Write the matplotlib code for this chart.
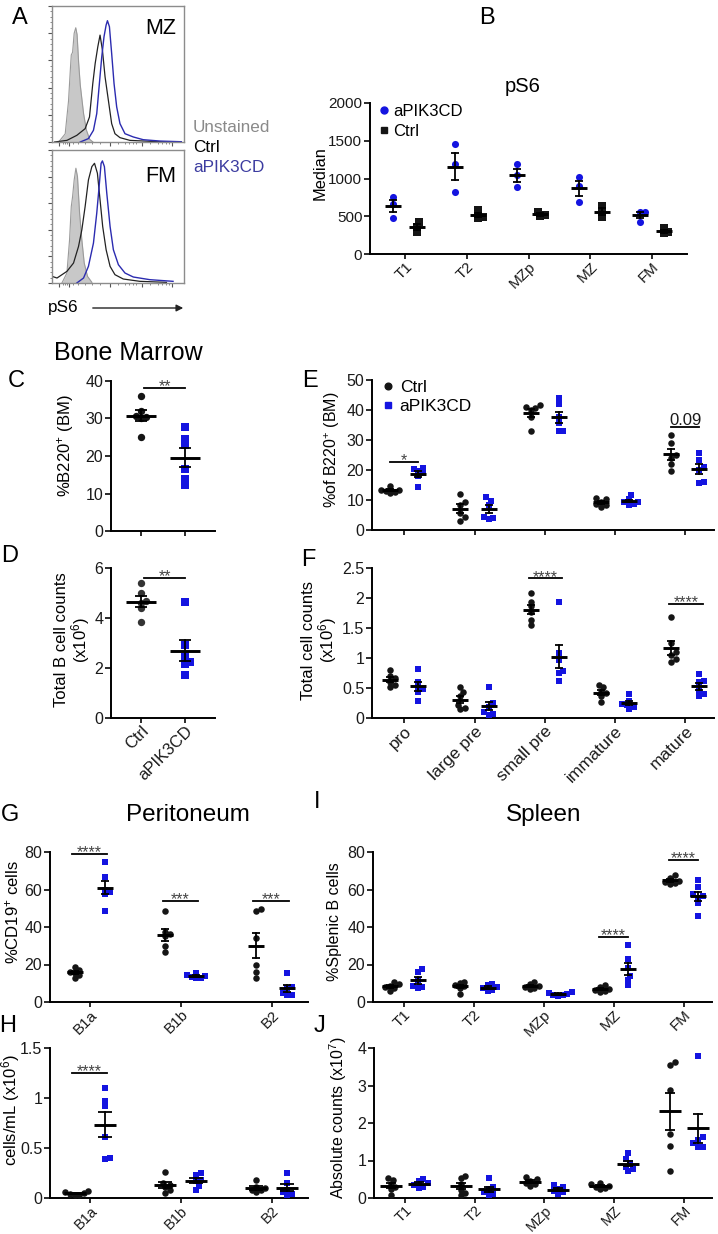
import numpy as np
import matplotlib
matplotlib.use("Agg")
import matplotlib.pyplot as plt
from matplotlib.lines import Line2D

plt.rcParams['font.family'] = ['Liberation Sans', 'DejaVu Sans']
plt.rcParams['mathtext.fontset'] = 'custom'
plt.rcParams['mathtext.rm'] = 'Liberation Sans'
plt.rcParams['mathtext.it'] = 'Liberation Sans:italic'

W, H = 718, 1234
BLUE = '#1414e0'
BLACK = '#151515'

# ---------------- data ----------------
# A: pS6 flow histograms (x, y in % of box)
mz_unst_x = [5, 10, 12.5, 14, 14.6, 15.6, 16.8, 18, 19, 20.2, 21.4, 23.9, 26, 28.5, 31]
mz_unst_y = [0, 6, 30, 55, 64, 66, 80, 84, 79, 58, 42, 21, 9, 2, 0]
mz_ctrl_x = [2, 11.3, 18.8, 25.1, 28.4, 30.9, 32.7, 34.7, 36.4, 38.2, 40.2, 42.7, 45.2, 47.7, 51.5, 59.0, 74.1, 91.7]
mz_ctrl_y = [0, 1.2, 4.9, 9.8, 18.4, 43, 57.7, 70, 78.6, 67.6, 47.9, 30.7, 13.5, 6.1, 3.2, 1.2, 0.5, 0]
mz_apik_x = [21.4, 27.6, 31.4, 33.9, 35.9, 37.7, 39.4, 41, 42, 43.5, 45.2, 47, 49, 51.5, 55.3, 61.6, 69.1, 81.7, 98]
mz_apik_y = [0, 2.5, 8.6, 20.9, 43, 62.7, 77.4, 86, 89.2, 84.8, 65.1, 43, 25.8, 13.5, 6.1, 3.7, 1.7, 0.7, 0.2]
fm_unst_x = [7.5, 11.3, 13.3, 14.6, 15.6, 16.8, 18.1, 19.3, 20.9, 22.6, 24.4, 26.9, 30.2]
fm_unst_y = [0, 7.5, 32.5, 57.5, 65, 77.5, 86.3, 80, 52.5, 32.5, 15, 5, 0.5]
fm_ctrl_x = [0, 3.8, 11.3, 16.3, 20.1, 22.6, 25.1, 27.6, 30.2, 32.2, 34.4, 36.4, 38.4, 41, 44, 47.7, 54, 66.6, 86.7]
fm_ctrl_y = [5, 3.75, 8.75, 15, 27.5, 40, 57.5, 77.5, 87.5, 90, 82.5, 62.5, 42.5, 25, 12.5, 6.25, 3, 1.25, 0.5]
fm_apik_x = [18.8, 23.9, 27.6, 31.4, 33.9, 35.7, 37.2, 38.2, 39.7, 41.5, 44, 46.5, 50.3, 55.3, 61.6, 74.1, 91.7]
fm_apik_y = [0, 3.75, 12.5, 30, 52.5, 72.5, 90, 91.8, 87.5, 67.5, 42.5, 25, 13.75, 7.5, 4.5, 2.5, 1.25]

# B: pS6 median
b_cats = ['T1', 'T2', 'MZp', 'MZ', 'FM']
b_apik = [[761, 664, 478], [1456, 1190, 827], [1190, 1049, 885], [1018, 907, 686], [560, 560, 430]]
b_ctrl = [[420, 360, 290], [580, 490, 480], [560, 520, 500], [640, 550, 485], [340, 296, 274]]

# C, D: bone marrow B cells
cd_cats = ['Ctrl', 'aPIK3CD']
c_ctrl = [36.1, 32.0, 30.6, 30.4, 30.0, 25.0]
c_apik = [27.6, 24.4, 22.8, 16.5, 13.8, 12.3]
d_ctrl = [5.4, 5.0, 4.7, 4.6, 4.4, 3.85]
d_apik = [4.65, 2.92, 2.45, 2.25, 2.15, 1.72]

# E, F: bone marrow subsets
ef_cats = ['pro', 'large pre', 'small pre', 'immature', 'mature']
e_ctrl = [[14.5, 13.5, 13.2, 13.0, 12.8, 12.5], [12, 9.4, 8.3, 5.6, 4.4, 3.1],
          [41.5, 41, 40.5, 40, 37.5, 33], [10.8, 10.5, 9.5, 8.8, 8.2, 7.8],
          [31.7, 29, 25, 24, 22, 19.8]]
e_apik = [[20.8, 20.2, 19.6, 19, 18, 14.3], [11.1, 9.8, 8.3, 4.4, 3.9, 3.6],
          [43.9, 41.9, 37.8, 35.7, 33.1, 33.0], [11.7, 10.2, 9.5, 9.2, 8.8, 8.5],
          [25.6, 23.3, 21, 20, 16, 15.8]]
f_ctrl = [[0.8, 0.7, 0.66, 0.6, 0.55, 0.52], [0.51, 0.43, 0.36, 0.22, 0.16, 0.15],
          [2.09, 1.94, 1.86, 1.77, 1.63, 1.55], [0.55, 0.51, 0.44, 0.41, 0.36, 0.26],
          [1.69, 1.25, 1.1, 1.05, 0.98, 0.93]]
f_apik = [[0.82, 0.6, 0.52, 0.49, 0.44, 0.29], [0.51, 0.245, 0.19, 0.105, 0.07, 0.05],
          [1.93, 1.08, 0.97, 0.79, 0.75, 0.62], [0.4, 0.29, 0.24, 0.22, 0.18, 0.15],
          [0.74, 0.62, 0.6, 0.45, 0.4, 0.36]]

# G, H: peritoneum
gh_cats = ['B1a', 'B1b', 'B2']
g_ctrl = [[18.5, 17, 16, 15.5, 14.5, 13], [48.7, 37.5, 36.5, 35, 30, 26.8], [49.6, 48.5, 34, 19.7, 16.2, 12.6]]
g_apik = [[74.5, 66.5, 60, 58.5, 57.5, 48.7], [15.5, 14.5, 14, 13.5, 13, 12.8], [15.6, 8.2, 7.5, 4.6, 4, 3.8]]
h_ctrl = [[0.07, 0.06, 0.05, 0.04, 0.035, 0.03], [0.26, 0.15, 0.13, 0.11, 0.08, 0.05], [0.18, 0.11, 0.1, 0.08, 0.08, 0.06]]
h_apik = [[1.10, 0.97, 0.92, 0.61, 0.40, 0.39], [0.25, 0.23, 0.18, 0.17, 0.12, 0.08], [0.25, 0.15, 0.08, 0.06, 0.04, 0.03]]

# I, J: spleen
ij_cats = ['T1', 'T2', 'MZp', 'MZ', 'FM']
i_ctrl = [[10.5, 9.5, 8.5, 8, 7.5, 6], [10.9, 10, 9.1, 8.3, 7.5, 4.3], [10.5, 9.5, 8.5, 8.2, 7.5, 7],
          [9, 8, 7, 6.5, 6, 5.5], [68, 66, 64.5, 64, 63.5, 63]]
i_apik = [[17.6, 15.8, 11.5, 8.8, 8, 7.5], [9.5, 9, 8, 7.5, 6.5, 5.8], [5.5, 5, 4.5, 4, 3.5, 3.2],
          [30.4, 22.8, 18, 13.9, 11.7, 9.1], [65, 61.2, 57.5, 56.5, 55.5, 52.6, 45.9]]
j_ctrl = [[0.54, 0.48, 0.37, 0.3, 0.23, 0.08], [0.6, 0.53, 0.37, 0.22, 0.13, 0.08],
          [0.55, 0.5, 0.45, 0.4, 0.38, 0.32], [0.4, 0.37, 0.33, 0.3, 0.27, 0.25],
          [3.64, 3.54, 2.89, 1.71, 1.39, 0.73]]
j_apik = [[0.5, 0.45, 0.4, 0.35, 0.3, 0.28], [0.53, 0.29, 0.25, 0.16, 0.12, 0.08],
          [0.34, 0.3, 0.25, 0.2, 0.15, 0.12], [1.19, 1.03, 0.93, 0.84, 0.77, 0.72],
          [3.78, 1.64, 1.55, 1.46, 1.37, 1.36]]

# significance marks: (category, height, label)
c_sig = [(0.5, 38.2, '**')]
d_sig = [(0.5, 5.61, '**')]
e_sig = [(0, 22.8, '*'), (4, 34.4, '0.09')]
f_sig = [(2, 2.33, '****'), (4, 1.9, '****')]
g_sig = [(0, 79, '****'), (1, 54, '***'), (2, 54, '***')]
h_sig = [(0, 1.25, '****')]
i_sig = [(3, 34.8, '****'), (4, 76, '****')]


fig = plt.figure(figsize=(W / 100, H / 100), dpi=100)


def add_ax(x0, y0, x1, y1):
    return fig.add_axes([x0 / W, 1 - y1 / H, (x1 - x0) / W, (y1 - y0) / H])


def ftext(x, y, s, **kw):
    fig.text(x / W, 1 - y / H, s, **kw)


def setup(ax, xlim, ylim, yticks, ylabels=None, fs=11.5):
    ax.set_xlim(xlim)
    ax.set_ylim(ylim)
    for s in ['top', 'right']:
        ax.spines[s].set_visible(False)
    for s in ['left', 'bottom']:
        ax.spines[s].set_linewidth(1.4)
    ax.set_yticks(yticks)
    if ylabels is not None:
        ax.set_yticklabels(ylabels)
    ax.tick_params(width=1.3, length=4, labelsize=fs, pad=1.5, colors='#1a1a1a')
    ax.tick_params(axis='x', length=3.5, pad=0.5)


def swarm_x(ax, xc, vals, d=4.6):
    tr = ax.transData
    inv = tr.inverted()
    placed = []
    out = np.empty(len(vals))
    x0 = tr.transform((xc, 0))[0]
    for i in np.argsort(vals):
        py = tr.transform((xc, vals[i]))[1]
        for k in range(40):
            off = ((k + 1) // 2) * d * 0.5 * (1 if k % 2 else -1)
            if all(np.hypot(x0 + off - qx, py - qy) >= d for qx, qy in placed):
                break
        placed.append((x0 + off, py))
        out[i] = inv.transform((x0 + off, py))[0]
    return out


def px_to_dx(ax, px):
    bb = ax.get_position()
    xl = ax.get_xlim()
    return px / (bb.width * W) * (xl[1] - xl[0])


def group(ax, xc, vals, color, marker, bar_px=8, cap_px=4, size=22):
    vals = np.asarray(vals, float)
    xs = swarm_x(ax, xc, vals)
    ax.scatter(xs, vals, s=size, c=color, marker=marker, linewidths=0, zorder=3, clip_on=False)
    m = vals.mean()
    se = vals.std(ddof=1) / np.sqrt(len(vals))
    db = px_to_dx(ax, bar_px)
    dc = px_to_dx(ax, cap_px)
    ax.plot([xc - db, xc + db], [m, m], color='k', lw=2.1, zorder=4, solid_capstyle='butt')
    ax.plot([xc, xc], [m - se, m + se], color='k', lw=1.3, zorder=4)
    for v in (m - se, m + se):
        ax.plot([xc - dc, xc + dc], [v, v], color='k', lw=1.3, zorder=4, solid_capstyle='butt')


def sig(ax, marks, left, right):
    for c, y, lab in marks:
        ax.plot([c + left, c + right], [y, y], color='k', lw=1.3, clip_on=False)
        if lab[0].isdigit():
            ax.annotate(lab, xy=(c + (left + right) / 2, y), xytext=(0, 1.5),
                        textcoords='offset points', ha='center', va='baseline',
                        fontsize=12, color='#1a1a1a')
        else:
            ax.annotate(lab, xy=(c + (left + right) / 2, y), xytext=(0, -2.5),
                        textcoords='offset points', ha='center', va='baseline',
                        fontsize=11.5, color='#444444')


def cat_labels(ax, cats, fs=11):
    ax.set_xticks(range(len(cats)))
    ax.set_xticklabels(cats, rotation=45, ha='right', rotation_mode='anchor', fontsize=fs)


# ---------------- A: histograms ----------------
for box, curves, lab, ly in [((52, 6, 184, 142), (mz_unst_x, mz_unst_y, mz_ctrl_x, mz_ctrl_y, mz_apik_x, mz_apik_y), 'MZ', 29),
                             ((52, 150, 184, 283), (fm_unst_x, fm_unst_y, fm_ctrl_x, fm_ctrl_y, fm_apik_x, fm_apik_y), 'FM', 177)]:
    ax = add_ax(*box)
    ux, uy, cx, cy, ax_, ay = curves
    ax.fill_between(ux, uy, color='#c8c8c8', lw=0)
    ax.plot(ux, uy, color='#9a9a9a', lw=0.8)
    ax.plot(cx, cy, color='#222222', lw=0.9)
    ax.plot(ax_, ay, color='#2b2bb0', lw=1.0)
    ax.set_xlim(0, 100)
    ax.set_ylim(0, 100)
    for s in ax.spines.values():
        s.set_color('#8c8c8c')
        s.set_linewidth(1)
    ax.set_yticks(np.arange(0, 101, 20))
    ax.set_yticks(np.arange(0, 101, 4), minor=True)
    ax.set_xticks([5, 13, 44, 68, 91])
    ax.set_xticks([8, 10, 11.5, 16, 20, 25, 30, 36, 50, 55, 58, 61, 64, 74, 80, 83, 86, 89], minor=True)
    ax.tick_params(labelleft=False, labelbottom=False, length=3, width=0.8, colors='#555555')
    ax.tick_params(which='minor', length=1.5, width=0.6, colors='#777777')
    ftext(176, ly, lab, ha='right', va='center', fontsize=15.5)

ftext(193, 128, 'Unstained', ha='left', va='center', fontsize=12.3, color='#8a8a8a')
ftext(193, 148, 'Ctrl', ha='left', va='center', fontsize=12.3, color='black')
ftext(193, 167, 'aPIK3CD', ha='left', va='center', fontsize=12.3, color='#3c3ca0')
ftext(48, 308, 'pS6', ha='left', va='center', fontsize=12.3)
fig.add_artist(matplotlib.patches.FancyArrowPatch((90 / W, 1 - 308 / H), (186 / W, 1 - 308 / H),
                                                  arrowstyle='-|>', mutation_scale=10, lw=1, color='#222222'))

# ---------------- B ----------------
ax = add_ax(370, 103, 687, 254)
setup(ax, (-0.567, 4.567), (0, 2000), [0, 500, 1000, 1500, 2000], fs=11)
for i in range(5):
    group(ax, i - 0.19, b_apik[i], BLUE, 'o', bar_px=8, cap_px=4, size=26)
    group(ax, i + 0.19, b_ctrl[i], BLACK, 's', bar_px=8, cap_px=4, size=26)
cat_labels(ax, b_cats, fs=11)
ax.legend(handles=[Line2D([], [], marker='o', ls='', color=BLUE, ms=5, label='aPIK3CD'),
                   Line2D([], [], marker='s', ls='', color=BLACK, ms=4.6, label='Ctrl')],
          loc='upper left', bbox_to_anchor=(0.01, 1.04), frameon=False, handlelength=0.5,
          handletextpad=0.3, fontsize=12, borderaxespad=0, labelspacing=0.3)
ftext(523, 87, 'pS6', ha='center', va='center', fontsize=14.5)
ftext(320, 173, 'Median', rotation=90, ha='center', va='center', fontsize=11.8)

# ---------------- C, D ----------------
ftext(128, 353, 'Bone Marrow', ha='center', va='center', fontsize=18)
ax = add_ax(111, 381, 215, 531)
setup(ax, (-0.68, 1.68), (0, 40), [0, 10, 20, 30, 40])
group(ax, 0, c_ctrl, BLACK, 'o', bar_px=15, cap_px=6, size=28)
group(ax, 1, c_apik, BLUE, 's', bar_px=15, cap_px=6, size=26)
ax.set_xticks([0, 1])
ax.set_xticklabels([])
sig(ax, c_sig, -0.43, 0.5)
ftext(66, 446, r'%B220$^{+}$ (BM)', rotation=90, ha='center', va='center', fontsize=12)

ax = add_ax(111, 568, 215, 718)
setup(ax, (-0.68, 1.68), (0, 6), [0, 2, 4, 6])
group(ax, 0, d_ctrl, '#333333', 'o', bar_px=15, cap_px=6, size=28)
group(ax, 1, d_apik, BLUE, 's', bar_px=15, cap_px=6, size=26)
cat_labels(ax, cd_cats, fs=12)
sig(ax, d_sig, -0.43, 0.5)
ftext(73, 640, 'Total B cell counts\n' + r'(x10$^{6}$)', rotation=90, ha='center', va='center',
      fontsize=12, linespacing=1.05)

# ---------------- E, F ----------------
ax = add_ax(372, 380, 714, 530)
setup(ax, (-0.46, 4.41), (0, 50), [0, 10, 20, 30, 40, 50])
for i in range(5):
    group(ax, i - 0.2, e_ctrl[i], BLACK, 'o', bar_px=8, cap_px=4)
    group(ax, i + 0.2, e_apik[i], BLUE, 's', bar_px=8, cap_px=4)
ax.set_xticks(range(5))
ax.set_xticklabels([])
sig(ax, e_sig, -0.2, 0.2)
ax.legend(handles=[Line2D([], [], marker='o', ls='', color=BLACK, ms=4.8, label='Ctrl'),
                   Line2D([], [], marker='s', ls='', color=BLUE, ms=4.5, label='aPIK3CD')],
          loc='upper left', bbox_to_anchor=(0.015, 1.05), frameon=False, handlelength=0.5,
          handletextpad=0.4, fontsize=12.5, borderaxespad=0, labelspacing=0.25)
ftext(332, 450, r'%of B220$^{+}$ (BM)', rotation=90, ha='center', va='center', fontsize=11.5)

ax = add_ax(372, 568, 714, 718)
setup(ax, (-0.46, 4.41), (0, 2.5), [0, 0.5, 1, 1.5, 2, 2.5], ['0', '0.5', '1', '1.5', '2', '2.5'])
for i in range(5):
    group(ax, i - 0.2, f_ctrl[i], BLACK, 'o', bar_px=8, cap_px=4)
    group(ax, i + 0.2, f_apik[i], BLUE, 's', bar_px=8, cap_px=4)
cat_labels(ax, ef_cats, fs=12.5)
sig(ax, f_sig, -0.23, 0.25)
ftext(320, 640, 'Total cell counts\n' + r'(x10$^{6}$)', rotation=90, ha='center', va='center',
      fontsize=12, linespacing=1.05)

# ---------------- G, H ----------------
ftext(188, 815, 'Peritoneum', ha='center', va='center', fontsize=17.5)
ax = add_ax(50, 852, 308, 1002)
setup(ax, (-0.44, 2.40), (0, 80), [0, 20, 40, 60, 80])
for i in range(3):
    group(ax, i - 0.17, g_ctrl[i], BLACK, 'o', bar_px=8, cap_px=4)
    group(ax, i + 0.17, g_apik[i], BLUE, 's', bar_px=8, cap_px=4)
cat_labels(ax, gh_cats, fs=11)
sig(ax, g_sig, -0.2, 0.19)
ftext(12, 912, r'%CD19$^{+}$ cells', rotation=90, ha='center', va='center', fontsize=12)

ax = add_ax(50, 1048, 308, 1198)
setup(ax, (-0.44, 2.40), (0, 1.5), [0, 0.5, 1, 1.5], ['0', '0.5', '1', '1.5'])
for i in range(3):
    group(ax, i - 0.17, h_ctrl[i], BLACK, 'o', bar_px=11, cap_px=7)
    group(ax, i + 0.17, h_apik[i], BLUE, 's', bar_px=11, cap_px=7)
cat_labels(ax, gh_cats, fs=10.5)
sig(ax, h_sig, -0.2, 0.19)
ftext(11, 1110, r'cells/mL (x10$^{6}$)', rotation=90, ha='center', va='center', fontsize=12)

# ---------------- I, J ----------------
ftext(544, 815, 'Spleen', ha='center', va='center', fontsize=17.5)
ax = add_ax(373, 852, 712, 1002)
setup(ax, (-0.44, 4.4), (0, 80), [0, 20, 40, 60, 80])
for i in range(5):
    group(ax, i - 0.2, i_ctrl[i], BLACK, 'o', bar_px=8, cap_px=4)
    group(ax, i + 0.2, i_apik[i], BLUE, 's', bar_px=8, cap_px=4)
cat_labels(ax, ij_cats, fs=11)
sig(ax, i_sig, -0.22, 0.2)
ftext(334, 922, '%Splenic B cells', rotation=90, ha='center', va='center', fontsize=11.5)

ax = add_ax(374, 1048, 712, 1198)
setup(ax, (-0.44, 4.4), (0, 4), [0, 1, 2, 3, 4])
for i in range(5):
    group(ax, i - 0.2, j_ctrl[i], BLACK, 'o', bar_px=11, cap_px=5)
    group(ax, i + 0.2, j_apik[i], BLUE, 's', bar_px=11, cap_px=5)
cat_labels(ax, ij_cats, fs=10.5)
ftext(338, 1118, r'Absolute counts (x10$^{7}$)', rotation=90, ha='center', va='center', fontsize=11.5)

# ---------------- panel letters ----------------
for lab, x, y in [('A', 20, 18), ('B', 487, 18), ('C', 16, 381), ('D', 10, 556), ('E', 310, 381),
                  ('F', 308, 560), ('G', 10, 815), ('H', 8, 1026), ('I', 317, 802), ('J', 320, 1026)]:
    ftext(x, y, lab, ha='center', va='center', fontsize=17)

fig.savefig('out.png', dpi=100)
